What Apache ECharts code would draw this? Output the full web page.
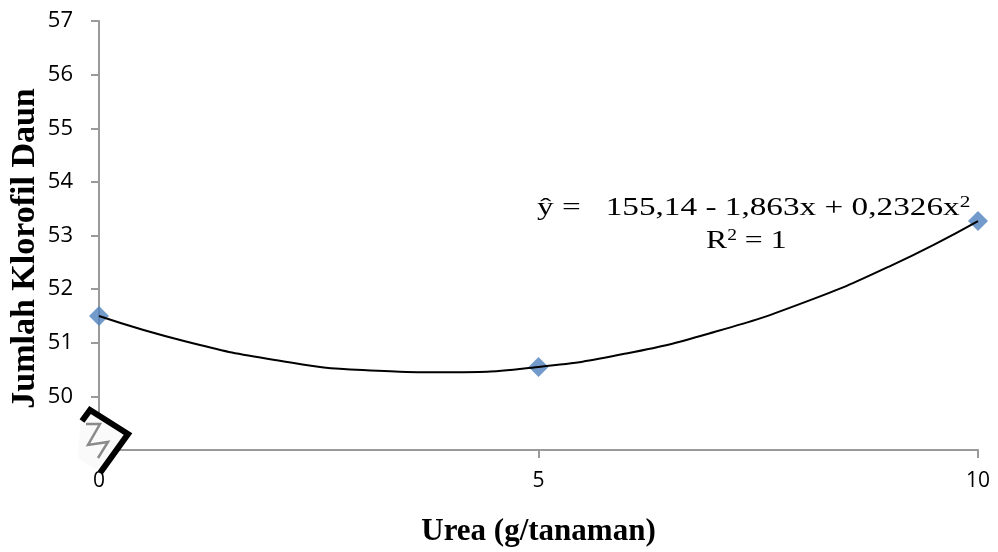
<!DOCTYPE html>
<html>
<head>
<meta charset="utf-8">
<title>Jumlah Klorofil Daun</title>
<script src="https://cdn.jsdelivr.net/npm/echarts@6/dist/echarts.min.js"></script>
<style>
  html, body { margin: 0; padding: 0; background: #fff; }
  #main { width: 998px; height: 552px; }
</style>
</head>
<body>
<div id="main"></div>
<script>
  // data
  const ureaDose = [0, 5, 10]
  const klorofil = [51.5, 50.55, 53.27]

  // trendline (polynomial, order 2)
  const trendX = [0, 1, 2, 3, 4, 5, 6, 7, 8, 9, 10]
  const trendY = [51.5, 51.02, 50.68, 50.49, 50.45, 50.55, 50.8, 51.2, 51.74, 52.43, 53.27]

  const xTicks = [0, 5, 10]
  const yTicks = [50, 51, 52, 53, 54, 55, 56, 57]

  const serif = '"Liberation Serif", "DejaVu Serif", serif'
  const sans = '"Open Sans", "Liberation Sans", sans-serif'

  const myChart = echarts.init(document.getElementById('main'))

  const supStyle = { fontSize: 16, verticalAlign: 'top', padding: [0, 0, 10, 0], fontFamily: serif }

  const option = {
    animation: false,
    grid: {
      left: 99,
      right: 20,
      top: 21,
      bottom: 102,
      containLabel: false,
      outerBoundsMode: 'none'
    },
    xAxis: {
      type: 'value',
      min: 0,
      max: 10,
      interval: 5,
      name: 'Urea (g/tanaman)',
      nameLocation: 'middle',
      nameGap: 66,
      nameMoveOverlap: false,
      nameTextStyle: { fontFamily: serif, fontWeight: 'bold', fontSize: 31, color: '#000' },
      axisLine: { lineStyle: { color: '#9a9a9a', width: 2 } },
      axisTick: { length: 8, lineStyle: { color: '#9a9a9a', width: 2 } },
      axisLabel: {
        margin: 21,
        fontFamily: sans,
        fontSize: 21,
        color: '#000',
        formatter: v => xTicks.includes(v) ? String(v) : ''
      },
      splitLine: { show: false }
    },
    yAxis: {
      type: 'value',
      min: 49,
      max: 57,
      interval: 1,
      name: 'Jumlah Klorofil Daun',
      nameLocation: 'middle',
      nameGap: 57,
      nameMoveOverlap: false,
      nameTextStyle: {
        fontFamily: serif,
        fontWeight: 'bold',
        fontSize: 34,
        color: '#000',
        padding: [0, 26, 0, 0]
      },
      axisLine: { show: true, lineStyle: { color: '#9a9a9a', width: 2 } },
      axisTick: { show: true, length: 8, lineStyle: { color: '#9a9a9a', width: 2 } },
      axisLabel: {
        margin: 26,
        fontFamily: sans,
        fontSize: 22,
        color: '#000',
        formatter: v => yTicks.includes(v) ? String(v) : ''
      },
      splitLine: { show: false }
    },
    series: [
      {
        name: 'Data',
        type: 'scatter',
        symbol: 'diamond',
        symbolSize: 20,
        itemStyle: { color: '#4f81bd' },
        data: ureaDose.map((x, i) => [x, klorofil[i]]),
        z: 2
      },
      {
        name: 'Trend',
        type: 'line',
        smooth: true,
        showSymbol: false,
        lineStyle: { color: '#000', width: 2 },
        data: trendX.map((x, i) => [x, trendY[i]]),
        z: 3
      }
    ],
    graphic: [
      // regression equation
      {
        type: 'text',
        x: 537,
        y: 195,
        scaleX: 1.33,
        style: {
          text: 'ŷ =   155,14 - 1,863x + 0,2326x{s|2}',
          font: '25px ' + serif,
          fill: '#000',
          rich: { s: supStyle }
        }
      },
      {
        type: 'text',
        x: 706,
        y: 228,
        scaleX: 1.22,
        style: {
          text: 'R{s|2} = 1',
          font: '26px ' + serif,
          fill: '#000',
          rich: { s: supStyle }
        }
      },
      // axis break mark
      {
        type: 'polygon',
        shape: { points: [[80, 424], [90, 409], [129, 434], [101, 473], [78, 458]] },
        style: { fill: '#fafafa' },
        z: 10
      },
      {
        type: 'polyline',
        shape: { points: [[86, 424], [100, 424], [88, 445], [108, 442], [98, 458]] },
        style: { stroke: '#8a8a8a', lineWidth: 2.5, fill: null },
        z: 11
      },
      {
        type: 'polyline',
        shape: { points: [[82, 421], [90, 410], [128, 434], [100, 473]] },
        style: { stroke: '#000', lineWidth: 6, fill: null },
        z: 12
      }
    ]
  }

  myChart.setOption(option)
</script>
</body>
</html>
